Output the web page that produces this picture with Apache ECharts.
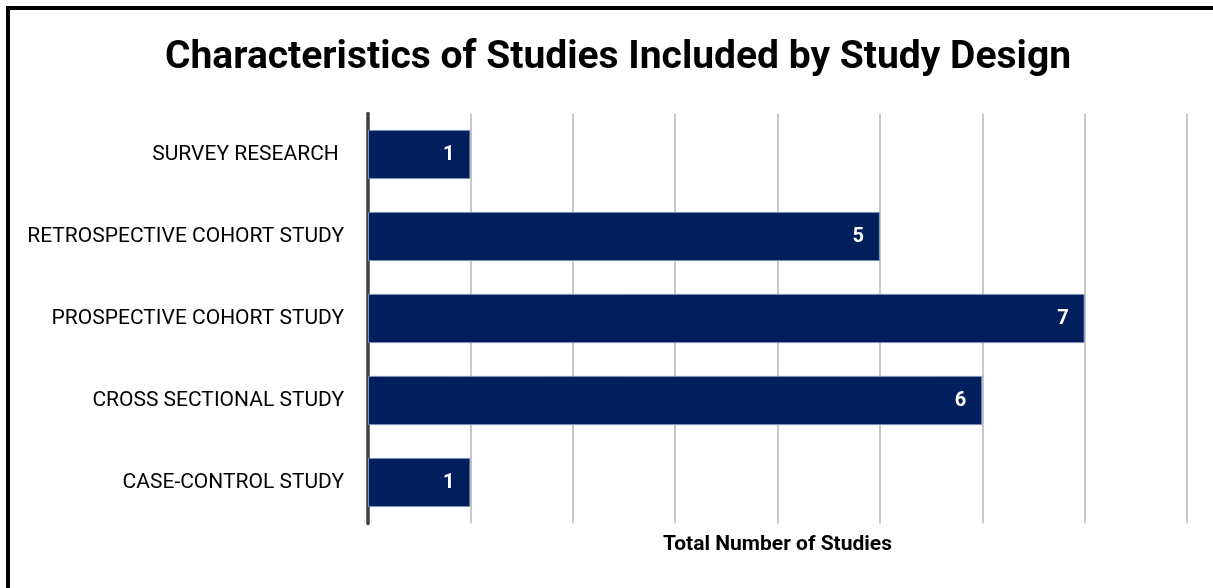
<!DOCTYPE html>
<html>
<head>
<meta charset="utf-8">
<script src="https://cdn.jsdelivr.net/npm/echarts@6/dist/echarts.min.js"></script>
<style>
  html, body { margin: 0; padding: 0; background: #fff; }
  #frame {
    position: absolute; left: 6px; top: 6px; width: 1300px; height: 700px;
    border-top: 4px solid #000; border-left: 4px solid #000; box-sizing: border-box;
  }
  #chart { position: absolute; left: 0; top: 0; width: 1213px; height: 588px; }
</style>
</head>
<body>
<div id="frame"></div>
<div id="chart"></div>
<script>
// Study designs, listed top to bottom
const categories = [
  'SURVEY RESEARCH ',
  'RETROSPECTIVE COHORT STUDY',
  'PROSPECTIVE COHORT STUDY',
  'CROSS SECTIONAL STUDY',
  'CASE-CONTROL STUDY'
];
// Number of included studies per design
const studyCounts = [1, 5, 7, 6, 1];
const xMin = 0;
const xMax = 8;
const xStep = 1;

const chart = echarts.init(document.getElementById('chart'), null, { renderer: 'canvas' });

chart.setOption({
  backgroundColor: 'transparent',
  animation: false,
  title: {
    text: 'Characteristics of Studies Included by Study Design',
    left: 160,
    top: 34,
    textStyle: { fontFamily: 'Roboto', fontWeight: 'bold', fontSize: 39, color: '#000' }
  },
  grid: { left: 368, right: 26, top: 113.5, bottom: 64.5, containLabel: false },
  xAxis: {
    type: 'value',
    min: xMin, max: xMax, interval: xStep,
    name: 'Total Number of Studies',
    nameLocation: 'middle',
    nameGap: 11,
    nameTextStyle: { fontFamily: 'Roboto', fontWeight: 'bold', fontSize: 21, color: '#000' },
    axisLine: { show: false },
    axisTick: { show: false },
    axisLabel: { show: false },
    splitLine: { show: true, lineStyle: { color: '#c8c8c8', width: 2 } }
  },
  yAxis: {
    type: 'category',
    data: categories,
    inverse: true,
    axisLine: { show: true, lineStyle: { color: '#404040', width: 3.5 } },
    axisTick: { show: false },
    axisLabel: { fontFamily: 'Roboto', fontSize: 21, color: '#000', margin: 24 }
  },
  series: [{
    type: 'bar',
    data: studyCounts,
    barWidth: '60%',
    itemStyle: { color: '#001f5c', borderColor: '#7f93b8', borderWidth: 1 },
    label: {
      show: true,
      position: 'insideRight',
      distance: 16,
      color: '#fff',
      fontFamily: 'Roboto',
      fontWeight: 'bold',
      fontSize: 20
    }
  }]
});
</script>
</body>
</html>
